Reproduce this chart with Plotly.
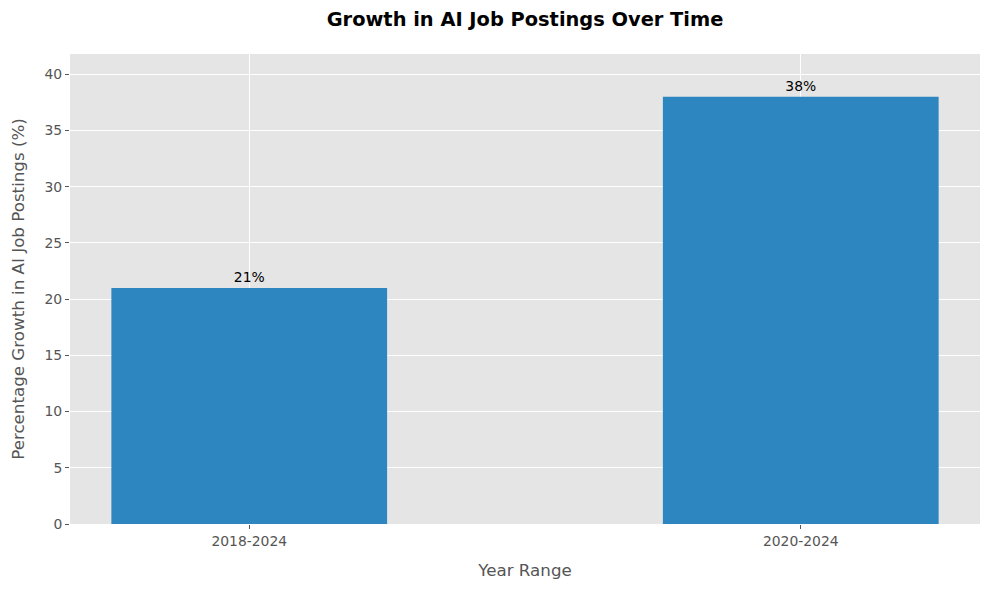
import plotly.graph_objects as go

categories = ["2018-2024", "2020-2024"]
growth = [21, 38]
labels = ["21%", "38%"]
positions = [0, 1]

fig = go.Figure()
fig.add_trace(go.Bar(
    x=positions, y=growth, width=0.5,
    marker=dict(color="#2E86C1", line=dict(width=0)),
    text=labels, textposition="outside",
    textfont=dict(color="black", size=13.9, family="DejaVu Sans"),
    cliponaxis=False,
))

font = "DejaVu Sans"
W, H = 982, 582
fig.update_layout(
    width=W, height=H,
    margin=dict(l=62, r=10, t=46, b=66),
    paper_bgcolor="white", plot_bgcolor="#E5E5E5",
    showlegend=False,
    font=dict(family=font, color="#555555"),
    title=dict(text="<b>Growth in AI Job Postings Over Time</b>",
               x=(525 - 8) / W, xanchor="center", y=1 - 11 / H, yanchor="middle",
               font=dict(size=19.4, color="black", family=font)),
    xaxis=dict(
        range=[-0.325, 1.325], tickmode="array", tickvals=positions, ticktext=categories,
        showgrid=True, gridcolor="white", gridwidth=1, zeroline=False,
        ticks="outside", ticklen=4, tickcolor="#555555",
        tickfont=dict(size=13.9, color="#555555"),
        title=dict(text="Year Range", font=dict(size=16.7, color="#555555"), standoff=16),
    ),
    yaxis=dict(
        range=[0, 41.8], tickmode="array", tickvals=[0, 5, 10, 15, 20, 25, 30, 35, 40],
        showgrid=True, gridcolor="white", gridwidth=1, zeroline=False,
        ticks="outside", ticklen=4, tickcolor="#555555",
        tickfont=dict(size=13.9, color="#555555"),
        title=dict(text="Percentage Growth in AI Job Postings (%)", font=dict(size=16.7, color="#555555"), standoff=16),
    ),
)
fig.write_html("out.html")
